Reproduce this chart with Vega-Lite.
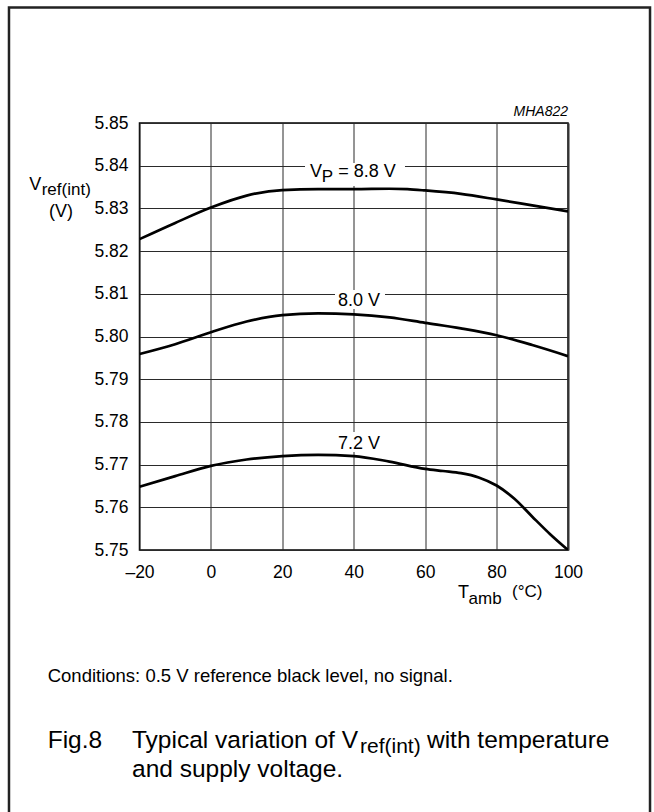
{
  "$schema": "https://vega.github.io/schema/vega-lite/v6.json",
  "autosize": "none",
  "width": 428.5,
  "height": 427,
  "padding": {"left": 139.5, "top": 123, "right": 86, "bottom": 262},
  "background": "white",
  "config": {
    "view": {"stroke": "black", "strokeWidth": 1.5},
    "font": "Liberation Sans",
    "text": {"font": "Liberation Sans", "color": "black"}
  },
  "datasets": {
    "curves": [
      {"T": -20, "V": 5.8228, "s": "8.8 V"}, {"T": -10, "V": 5.8266, "s": "8.8 V"}, {"T": 0, "V": 5.8302, "s": "8.8 V"},
      {"T": 10, "V": 5.8330, "s": "8.8 V"}, {"T": 20, "V": 5.8343, "s": "8.8 V"}, {"T": 30, "V": 5.8345, "s": "8.8 V"},
      {"T": 40, "V": 5.8345, "s": "8.8 V"}, {"T": 50, "V": 5.8346, "s": "8.8 V"}, {"T": 55, "V": 5.8345, "s": "8.8 V"},
      {"T": 60, "V": 5.8342, "s": "8.8 V"}, {"T": 70, "V": 5.8334, "s": "8.8 V"}, {"T": 80, "V": 5.8321, "s": "8.8 V"},
      {"T": 90, "V": 5.8307, "s": "8.8 V"}, {"T": 100, "V": 5.8293, "s": "8.8 V"},
      {"T": -20, "V": 5.7959, "s": "8.0 V"}, {"T": -10, "V": 5.7982, "s": "8.0 V"}, {"T": 0, "V": 5.8010, "s": "8.0 V"},
      {"T": 10, "V": 5.8035, "s": "8.0 V"}, {"T": 20, "V": 5.8050, "s": "8.0 V"}, {"T": 30, "V": 5.8054, "s": "8.0 V"},
      {"T": 40, "V": 5.8052, "s": "8.0 V"}, {"T": 50, "V": 5.8045, "s": "8.0 V"}, {"T": 60, "V": 5.8032, "s": "8.0 V"},
      {"T": 70, "V": 5.8019, "s": "8.0 V"}, {"T": 80, "V": 5.8003, "s": "8.0 V"}, {"T": 90, "V": 5.7980, "s": "8.0 V"},
      {"T": 100, "V": 5.7954, "s": "8.0 V"},
      {"T": -20, "V": 5.7648, "s": "7.2 V"}, {"T": -10, "V": 5.7673, "s": "7.2 V"}, {"T": 0, "V": 5.7697, "s": "7.2 V"},
      {"T": 10, "V": 5.7712, "s": "7.2 V"}, {"T": 20, "V": 5.7720, "s": "7.2 V"}, {"T": 30, "V": 5.7723, "s": "7.2 V"},
      {"T": 40, "V": 5.7720, "s": "7.2 V"}, {"T": 50, "V": 5.7707, "s": "7.2 V"}, {"T": 60, "V": 5.7690, "s": "7.2 V"},
      {"T": 65, "V": 5.7685, "s": "7.2 V"}, {"T": 70, "V": 5.7680, "s": "7.2 V"}, {"T": 75, "V": 5.7670, "s": "7.2 V"},
      {"T": 80, "V": 5.7651, "s": "7.2 V"}, {"T": 85, "V": 5.7620, "s": "7.2 V"}, {"T": 90, "V": 5.7578, "s": "7.2 V"},
      {"T": 95, "V": 5.7537, "s": "7.2 V"}, {"T": 100, "V": 5.7500, "s": "7.2 V"}
    ],
    "frame": [{"T1": -56.55, "T2": 122.97, "V1": 5.87705, "V2": 5.68}],
    "labelBoxes": [
      {"T1": 26.35, "T2": 54.35, "V1": 5.84063, "V2": 5.83525},
      {"T1": 34.75, "T2": 48.75, "V1": 5.81089, "V2": 5.80644},
      {"T1": 34.75, "T2": 48.75, "V1": 5.77763, "V2": 5.77295}
    ],
    "mainText": [
      {"T": 27.75, "V": 5.83728, "text": "V"},
      {"T": 35.67, "V": 5.83728, "text": "= 8.8 V"},
      {"T": 35.59, "V": 5.80714, "text": "8.0 V"},
      {"T": 35.59, "V": 5.77358, "text": "7.2 V"},
      {"T": -50.86, "V": 5.83431, "text": "V"},
      {"T": -45.34, "V": 5.82799, "text": "(V)"},
      {"T": 69.19, "V": 5.73876, "text": "T"}
    ],
    "subText": [
      {"T": 31.03, "V": 5.83625, "text": "P"},
      {"T": -47.39, "V": 5.83321, "text": "ref(int)"},
      {"T": 72.14, "V": 5.73747, "text": "amb"},
      {"T": 84.32, "V": 5.73911, "text": "(°C)"}
    ],
    "code": [{"T": 100, "V": 5.85164, "text": "MHA822"}],
    "note": [{"T": -45.71, "V": 5.71909, "text": "Conditions: 0.5 V reference black level, no signal."}],
    "caption": [
      {"T": -45.71, "V": 5.70363, "text": "Fig.8"},
      {"T": -22.1, "V": 5.70363, "text": "Typical variation of V"},
      {"T": 60.51, "V": 5.70363, "text": "with temperature"},
      {"T": -22.1, "V": 5.69684, "text": "and supply voltage."}
    ],
    "captionSub": [{"T": 41.75, "V": 5.70246, "text": "ref(int)"}]
  },
  "layer": [
    {
      "data": {"name": "frame"},
      "mark": {"type": "rect", "fill": null, "fillOpacity": 0, "stroke": "#222", "strokeWidth": 2.5},
      "encoding": {
        "x": {"field": "T1", "type": "quantitative", "scale": {"domain": [-20, 100], "nice": false},
          "axis": {
            "values": [-20, -10, 0, 10, 20, 30, 40, 50, 60, 70, 80, 90, 100],
            "labelExpr": "datum.value % 20 === 0 ? (datum.value < 0 ? '–' + abs(datum.value) : datum.label) : ''",
            "title": null, "ticks": false, "tickSize": 0, "domain": false,
            "grid": true, "gridColor": "#2a2a2a", "gridWidth": 1, "gridOpacity": 1,
            "labelFontSize": 17.5, "labelFont": "Liberation Sans", "labelColor": "black",
            "labelPadding": 13, "labelFlush": false, "labelOverlap": false
          }},
        "x2": {"field": "T2"},
        "y": {"field": "V1", "type": "quantitative", "scale": {"domain": [5.75, 5.85], "nice": false, "zero": false},
          "axis": {
            "values": [5.75, 5.76, 5.77, 5.78, 5.79, 5.80, 5.81, 5.82, 5.83, 5.84, 5.85],
            "format": ".2f", "title": null, "ticks": false, "tickSize": 0, "domain": false,
            "grid": true, "gridColor": "#2a2a2a", "gridWidth": 1, "gridOpacity": 1,
            "labelFontSize": 17.5, "labelFont": "Liberation Sans", "labelColor": "black",
            "labelPadding": 11.5, "labelFlush": false, "labelOverlap": false
          }},
        "y2": {"field": "V2"}
      }
    },
    {
      "data": {"name": "labelBoxes"},
      "mark": {"type": "rect", "fill": "white", "stroke": null},
      "encoding": {
        "x": {"field": "T1", "type": "quantitative"},
        "x2": {"field": "T2"},
        "y": {"field": "V1", "type": "quantitative"},
        "y2": {"field": "V2"}
      }
    },
    {
      "data": {"name": "curves"},
      "mark": {"type": "line", "color": "black", "strokeWidth": 2.7, "interpolate": "monotone", "clip": true},
      "encoding": {
        "x": {"field": "T", "type": "quantitative"},
        "y": {"field": "V", "type": "quantitative"},
        "detail": {"field": "s"}
      }
    },
    {
      "data": {"name": "mainText"},
      "mark": {"type": "text", "fontSize": 18, "align": "left", "baseline": "alphabetic"},
      "encoding": {
        "x": {"field": "T", "type": "quantitative"},
        "y": {"field": "V", "type": "quantitative"},
        "text": {"field": "text"}
      }
    },
    {
      "data": {"name": "subText"},
      "mark": {"type": "text", "fontSize": 17, "align": "left", "baseline": "alphabetic"},
      "encoding": {
        "x": {"field": "T", "type": "quantitative"},
        "y": {"field": "V", "type": "quantitative"},
        "text": {"field": "text"}
      }
    },
    {
      "data": {"name": "code"},
      "mark": {"type": "text", "fontSize": 14, "fontStyle": "italic", "align": "right", "baseline": "alphabetic"},
      "encoding": {
        "x": {"field": "T", "type": "quantitative"},
        "y": {"field": "V", "type": "quantitative"},
        "text": {"field": "text"}
      }
    },
    {
      "data": {"name": "note"},
      "mark": {"type": "text", "fontSize": 18.5, "align": "left", "baseline": "alphabetic"},
      "encoding": {
        "x": {"field": "T", "type": "quantitative"},
        "y": {"field": "V", "type": "quantitative"},
        "text": {"field": "text"}
      }
    },
    {
      "data": {"name": "caption"},
      "mark": {"type": "text", "fontSize": 24.5, "align": "left", "baseline": "alphabetic"},
      "encoding": {
        "x": {"field": "T", "type": "quantitative"},
        "y": {"field": "V", "type": "quantitative"},
        "text": {"field": "text"}
      }
    },
    {
      "data": {"name": "captionSub"},
      "mark": {"type": "text", "fontSize": 21, "align": "left", "baseline": "alphabetic"},
      "encoding": {
        "x": {"field": "T", "type": "quantitative"},
        "y": {"field": "V", "type": "quantitative"},
        "text": {"field": "text"}
      }
    }
  ]
}
